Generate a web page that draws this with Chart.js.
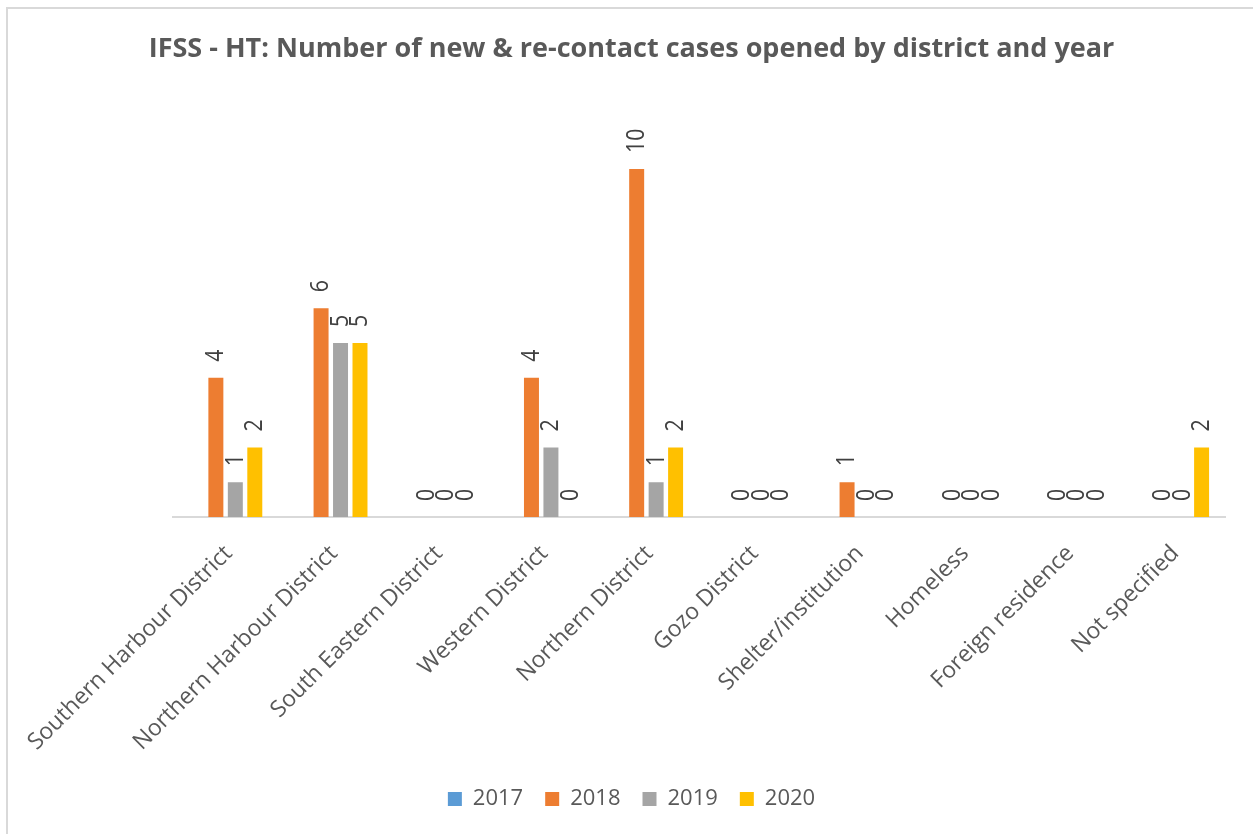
<!DOCTYPE html>
<html>
<head>
<meta charset="utf-8">
<script src="https://cdn.jsdelivr.net/npm/chart.js@4.4.1/dist/chart.umd.min.js"></script>
<style>
    body { margin: 0; background: #fff; }
    #wrap { width: 1253px; height: 834px; }
</style>
</head>
<body>
<div id="wrap"><canvas id="Chart" width="1253" height="834"></canvas></div>
<script>
const districts = ['Southern Harbour District', 'Northern Harbour District', 'South Eastern District',
    'Western District', 'Northern District', 'Gozo District', 'Shelter/institution', 'Homeless',
    'Foreign residence', 'Not specified'];
const years = ['2017', '2018', '2019', '2020'];
const cases2017 = [null, null, null, null, null, null, null, null, null, null];
const cases2018 = [4, 6, 0, 4, 10, 0, 1, 0, 0, 0];
const cases2019 = [1, 5, 0, 2, 1, 0, 0, 0, 0, 0];
const cases2020 = [2, 5, 0, 0, 2, 0, 0, 0, 0, 2];

const colors = ['#5B9BD5', '#ED7D31', '#A5A5A5', '#FFC000'];
const textGray = '#595959';

// value labels, turned on their side like the excel ones
const barLabels = {
    id: 'barLabels',
    afterDatasetsDraw(chart) {
        const c = chart.ctx;
        c.save();
        c.font = '26px "Open Sans"';
        c.fillStyle = '#404040';
        c.textAlign = 'left';
        c.textBaseline = 'middle';
        chart.data.datasets.forEach((ds, i) => {
            chart.getDatasetMeta(i).data.forEach((bar, j) => {
                const v = ds.data[j];
                if (v === null || v === undefined) return;
                c.save();
                c.translate(bar.x, bar.y - 16);
                c.rotate(-Math.PI / 2);
                c.scale(0.82, 1); // excel digits are narrower
                c.fillText(String(v), 0, 0);
                c.restore();
            });
        });
        c.restore();
    }
};

const frame = {
    id: 'frame',
    beforeDraw(chart) {
        const c = chart.ctx;
        c.save();
        c.fillStyle = '#fff';
        c.fillRect(0, 0, chart.width, chart.height);
        c.strokeStyle = '#D9D9D9';
        c.lineWidth = 2;
        c.strokeRect(7, 8, chart.width + 10, chart.height + 10);
        c.restore();
    }
};

const ctx = document.getElementById('Chart').getContext('2d');
const allData = [cases2017, cases2018, cases2019, cases2020];
let myChart = new Chart(ctx, {
    type: 'bar',
    data: {
        labels: districts,
        datasets: years.map((y, i) => ({
            label: y,
            data: allData[i],
            backgroundColor: colors[i],
            borderWidth: 0,
            categoryPercentage: 0.74,
            barPercentage: 0.77
        }))
    },
    options: {
        responsive: false,
        animation: false,
        layout: {
            padding: { left: 10, right: 0, top: 0, bottom: 14 }
        },
        plugins: {
            title: {
                display: true,
                text: 'IFSS - HT: Number of new & re-contact cases opened by district and year',
                color: textGray,
                font: { family: 'Open Sans', size: 27, weight: 'bold' },
                padding: { top: 33, bottom: 34 }
            },
            legend: {
                position: 'bottom',
                labels: {
                    color: textGray,
                    font: { family: 'Open Sans', size: 22 },
                    boxWidth: 14,
                    boxHeight: 14,
                    padding: 22
                }
            },
            tooltip: { enabled: false }
        },
        scales: {
            x: {
                grid: { display: false },
                border: { display: true, color: '#D9D9D9', width: 2 },
                ticks: {
                    color: textGray,
                    font: { family: 'Open Sans', size: 23 },
                    maxRotation: 45,
                    minRotation: 45,
                    padding: 15,
                    labelOffset: 3
                },
                afterFit(scale) {
                    scale.paddingLeft = 173;
                    scale.paddingRight = 28;
                    scale.height = 249;
                }
            },
            y: {
                display: false,
                min: 0,
                max: 12
            }
        }
    },
    plugins: [barLabels, frame]
});
</script>
</body>
</html>
